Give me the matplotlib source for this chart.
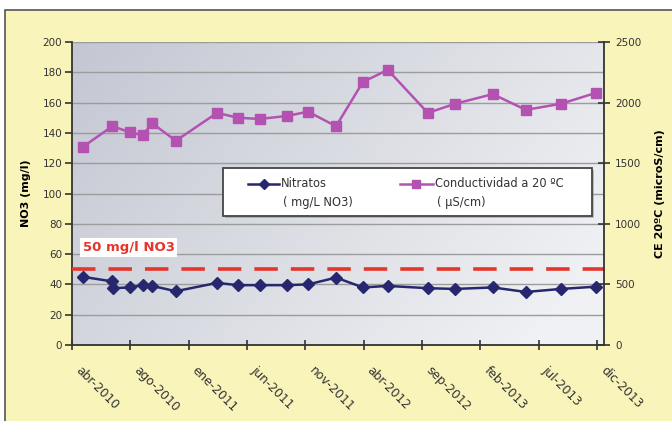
import matplotlib

matplotlib.use("Agg")
import matplotlib.pyplot as plt
import matplotlib.dates as mdates
from matplotlib.lines import Line2D
from matplotlib.patches import Rectangle
import numpy as np
import pandas as pd

plt.rcParams["font.family"] = ["DejaVu Sans"]

# ---- data ----
DATES_NO3 = ["2010-04-29", "2010-07-13", "2010-07-16", "2010-08-28", "2010-09-30",
             "2010-10-24", "2010-12-24", "2011-04-09", "2011-06-02", "2011-07-28",
             "2011-10-06", "2011-11-29", "2012-02-09", "2012-04-18", "2012-06-21",
             "2012-10-02", "2012-12-11", "2013-03-18", "2013-06-11", "2013-09-09",
             "2013-12-08"]
NO3 = [45, 42, 37.5, 38, 39.5, 39, 35.5, 41, 39.5, 39.5,
       39.5, 40, 44.5, 38, 39, 37.5, 37, 38, 35, 37, 38.5]

DATES_CE = ["2010-04-29", "2010-07-14", "2010-08-28", "2010-09-30", "2010-10-24",
            "2010-12-24", "2011-04-09", "2011-06-02", "2011-07-28", "2011-10-06",
            "2011-11-29", "2012-02-09", "2012-04-18", "2012-06-21", "2012-10-02",
            "2012-12-11", "2013-03-18", "2013-06-11", "2013-09-09", "2013-12-08"]
CE = [1635, 1805, 1755, 1730, 1830, 1685, 1915, 1875, 1865, 1890,
      1925, 1805, 2170, 2270, 1915, 1990, 2070, 1940, 1990, 2080]

LIMIT_NO3 = 50
TICK_LABELS = ["abr-2010", "ago-2010", "ene-2011", "jun-2011", "nov-2011",
               "abr-2012", "sep-2012", "feb-2013", "jul-2013", "dic-2013"]
AXIS_START = "2010-04-01"
AXIS_END = "2013-12-29"
TICK_STEP_DAYS = 150

NAVY = "#27276f"
MAGENTA = "#b452b2"
RED = "#e4362b"
YELLOW = "#f8f4ba"

fig = plt.figure(figsize=(6.72, 4.21), dpi=100)
fig.patch.set_facecolor("white")

# yellow chart area with dark frame (top-left corner visible only)
fig.patches.append(Rectangle((5 / 672, -0.1), 1.2, 1.1 - 10 / 421,
                             transform=fig.transFigure, facecolor=YELLOW,
                             edgecolor="#555555", linewidth=1.2, zorder=-10))

ax = fig.add_axes([72 / 672, 1 - 345 / 421, 532 / 672, 303 / 421])
ax.patch.set_visible(False)

# gradient plot-area background
gx = np.linspace(0, 1, 200)
gy = np.linspace(0, 1, 100)
GX, GY = np.meshgrid(gx, gy)
t = np.clip(0.75 * GX + 0.35 * GY, 0, 1)
c0 = np.array([0xc4, 0xc7, 0xd2]) / 255
c1 = np.array([0xf0, 0xf1, 0xf4]) / 255
grad = c0 + (c1 - c0) * t[..., None]
ax.imshow(grad, extent=[0, 1, 0, 1], transform=ax.transAxes, aspect="auto",
          origin="upper", zorder=0)

d_no3 = mdates.date2num(pd.to_datetime(DATES_NO3))
d_ce = mdates.date2num(pd.to_datetime(DATES_CE))
start = mdates.date2num(pd.Timestamp(AXIS_START))
end = mdates.date2num(pd.Timestamp(AXIS_END))
ticks = [start + TICK_STEP_DAYS * i for i in range(len(TICK_LABELS))]

ax.set_ylim(0, 200)
ax.set_yticks(range(0, 201, 20))
ax.set_xlim(start, end)
ax.grid(axis="y", color="#9c9c9c", linewidth=1.0, zorder=1)
ax.set_axisbelow(True)

ax.axhline(LIMIT_NO3, color=RED, linewidth=2.6, dashes=(6.5, 3.6), zorder=3)
ax.plot(d_no3, NO3, color=NAVY, linewidth=1.8, marker="D", markersize=6.5,
        markerfacecolor=NAVY, markeredgecolor=NAVY, zorder=4)
ax.text(0.02, 64.5, "50 mg/l NO3", transform=ax.get_yaxis_transform(),
        color=RED, fontsize=9.5, fontweight="bold", va="center", ha="left",
        bbox=dict(facecolor="white", edgecolor="none", pad=2.0), zorder=5)

# x tick labels: slanted, starting just below-right of each tick
ax.set_xticks(ticks)
ax.set_xticklabels([])
for tk, lbl in zip(ticks, TICK_LABELS):
    ax.annotate(lbl, xy=(tk, 0), xycoords=ax.get_xaxis_transform(),
                xytext=(4, -17), textcoords="offset points", rotation=-45,
                rotation_mode="anchor", ha="left", va="center", fontsize=8.8,
                color="#333333", annotation_clip=False)
ax.tick_params(axis="x", direction="inout", length=7, width=1.2,
               color="#333333")
ax.tick_params(axis="y", direction="out", length=5, width=1.2, labelsize=7.5,
               color="#333333", labelcolor="#333333", pad=2)
ax.set_ylabel("NO3 (mg/l)", fontsize=8, fontweight="bold", labelpad=8)
for s in ("left", "bottom"):
    ax.spines[s].set_color("#333333")
    ax.spines[s].set_linewidth(1.3)
ax.spines["top"].set_visible(False)
ax.spines["right"].set_visible(False)

ax2 = ax.twinx()
ax2.set_ylim(0, 2500)
ax2.set_yticks(range(0, 2501, 500))
ax2.plot(d_ce, CE, color=MAGENTA, linewidth=1.8, marker="s", markersize=7,
         markerfacecolor=MAGENTA, markeredgecolor=MAGENTA, zorder=4)
ax2.tick_params(axis="y", direction="inout", length=8, width=1.2, labelsize=7.5,
                color="#333333", labelcolor="#333333", pad=4)
ax2.set_ylabel("CE 20ºC (microS/cm)", fontsize=8, fontweight="bold", labelpad=10)
ax2.spines["right"].set_color("#333333")
ax2.spines["right"].set_linewidth(1.3)
for s in ("top", "left", "bottom"):
    ax2.spines[s].set_visible(False)

# legend box drawn by hand so that the units sit on a second line
W, H = 532.0, 303.0


def ax_xy(px, py):
    return (px - 72) / W, (345 - py) / H


x0, y0 = ax_xy(223, 216)
x1, y1 = ax_xy(592, 168)
ax2.add_patch(Rectangle((x0 + 0.004, y0 - 0.008), x1 - x0, y1 - y0,
                        transform=ax2.transAxes, facecolor="#8a8a8a",
                        edgecolor="none", alpha=0.5, zorder=6))
ax2.add_patch(Rectangle((x0, y0), x1 - x0, y1 - y0, transform=ax2.transAxes,
                        facecolor="white", edgecolor="#444444", linewidth=1.3,
                        zorder=7))
legend_items = [
    (NAVY, "D", 5, "Nitratos", "( mg/L NO3)", 248, 279),
    (MAGENTA, "s", 6, "Conductividad a 20 ºC", "( µS/cm)", 400, 433),
]
for col, mk, ms, l1, l2, hx0, hx1 in legend_items:
    ax_a, ay = ax_xy(hx0, 184)
    ax_b, _ = ax_xy(hx1, 184)
    ax2.add_line(Line2D([ax_a, ax_b], [ay, ay], transform=ax2.transAxes,
                        color=col, linewidth=1.8, zorder=8))
    ax2.add_line(Line2D([(ax_a + ax_b) / 2], [ay], transform=ax2.transAxes,
                        color=col, marker=mk, markersize=ms, zorder=8))
    ax2.text(ax_b + 0.004, ay, l1, transform=ax2.transAxes, fontsize=8.3,
             color="#333333", va="center", ha="left", zorder=8)
    _, ay2 = ax_xy(hx1, 203)
    ax2.text(ax_b + 0.008, ay2, l2, transform=ax2.transAxes, fontsize=8.3,
             color="#333333", va="center", ha="left", zorder=8)

fig.savefig("out.png", dpi=100)
